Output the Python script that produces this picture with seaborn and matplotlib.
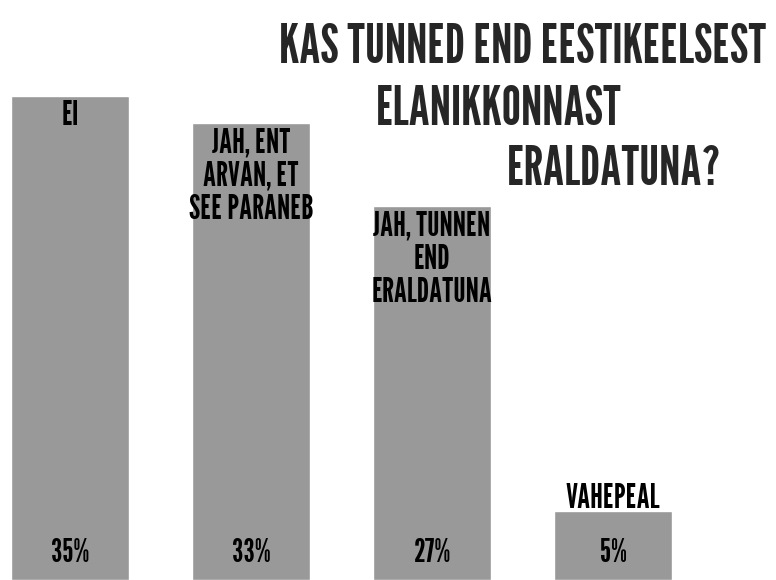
import matplotlib
matplotlib.use("Agg")
import matplotlib.pyplot as plt
import matplotlib.transforms as mtransforms
import seaborn as sns
import pandas as pd

categories = ["EI", "JAH, ENT\nARVAN, ET\nSEE PARANEB", "JAH, TUNNEN\nEND\nERALDATUNA", "VAHEPEAL"]
values = [35, 33, 27, 5]
pct_labels = ["35%", "33%", "27%", "5%"]
title_lines = ["KAS TUNNED END EESTIKEELSEST", "ELANIKKONNAST", "ERALDATUNA?"]

FONT = ["League Gothic", "Bebas Neue", "DejaVu Sans"]

sns.set_theme(style="white")
plt.rcParams["font.family"] = FONT

df = pd.DataFrame({"cat": categories, "val": values})

fig = plt.figure(figsize=(7.76, 5.8), dpi=100)
ax = fig.add_axes([0, 0, 1, 1])
sns.barplot(data=df, x="cat", y="val", color="#999999", width=0.652, ax=ax, saturation=1)
ax.set_xlim(-0.387, 3.9)
ax.set_ylim(0, 41.9)
ax.axis("off")

LBL = 24
PCT = 23
trans = mtransforms.blended_transform_factory(ax.transData, ax.transAxes)
for i, (lab, v, p) in enumerate(zip(categories, values, pct_labels)):
    if v > 10:
        ax.annotate(lab, xy=(i, v), xytext=(0, -3), textcoords="offset points",
                    ha="center", va="top", fontsize=LBL, linespacing=1.1, color="black")
    else:
        ax.annotate(lab, xy=(i, v), xytext=(0, 2.2), textcoords="offset points",
                    ha="center", va="baseline", fontsize=LBL, color="black")
    ax.text(i, 1 - 562 / 580, p, transform=trans, ha="center", va="baseline",
            fontsize=PCT, color="black")

TS = 39
fig.text(279 / 776, 1 - 63 / 580, title_lines[0], fontsize=TS, va="baseline", ha="left")
fig.text(376 / 776, 1 - 125 / 580, title_lines[1], fontsize=TS, va="baseline", ha="left")
fig.text(507 / 776, 1 - 185 / 580, title_lines[2], fontsize=TS, va="baseline", ha="left")

fig.savefig("out.png", dpi=100)
